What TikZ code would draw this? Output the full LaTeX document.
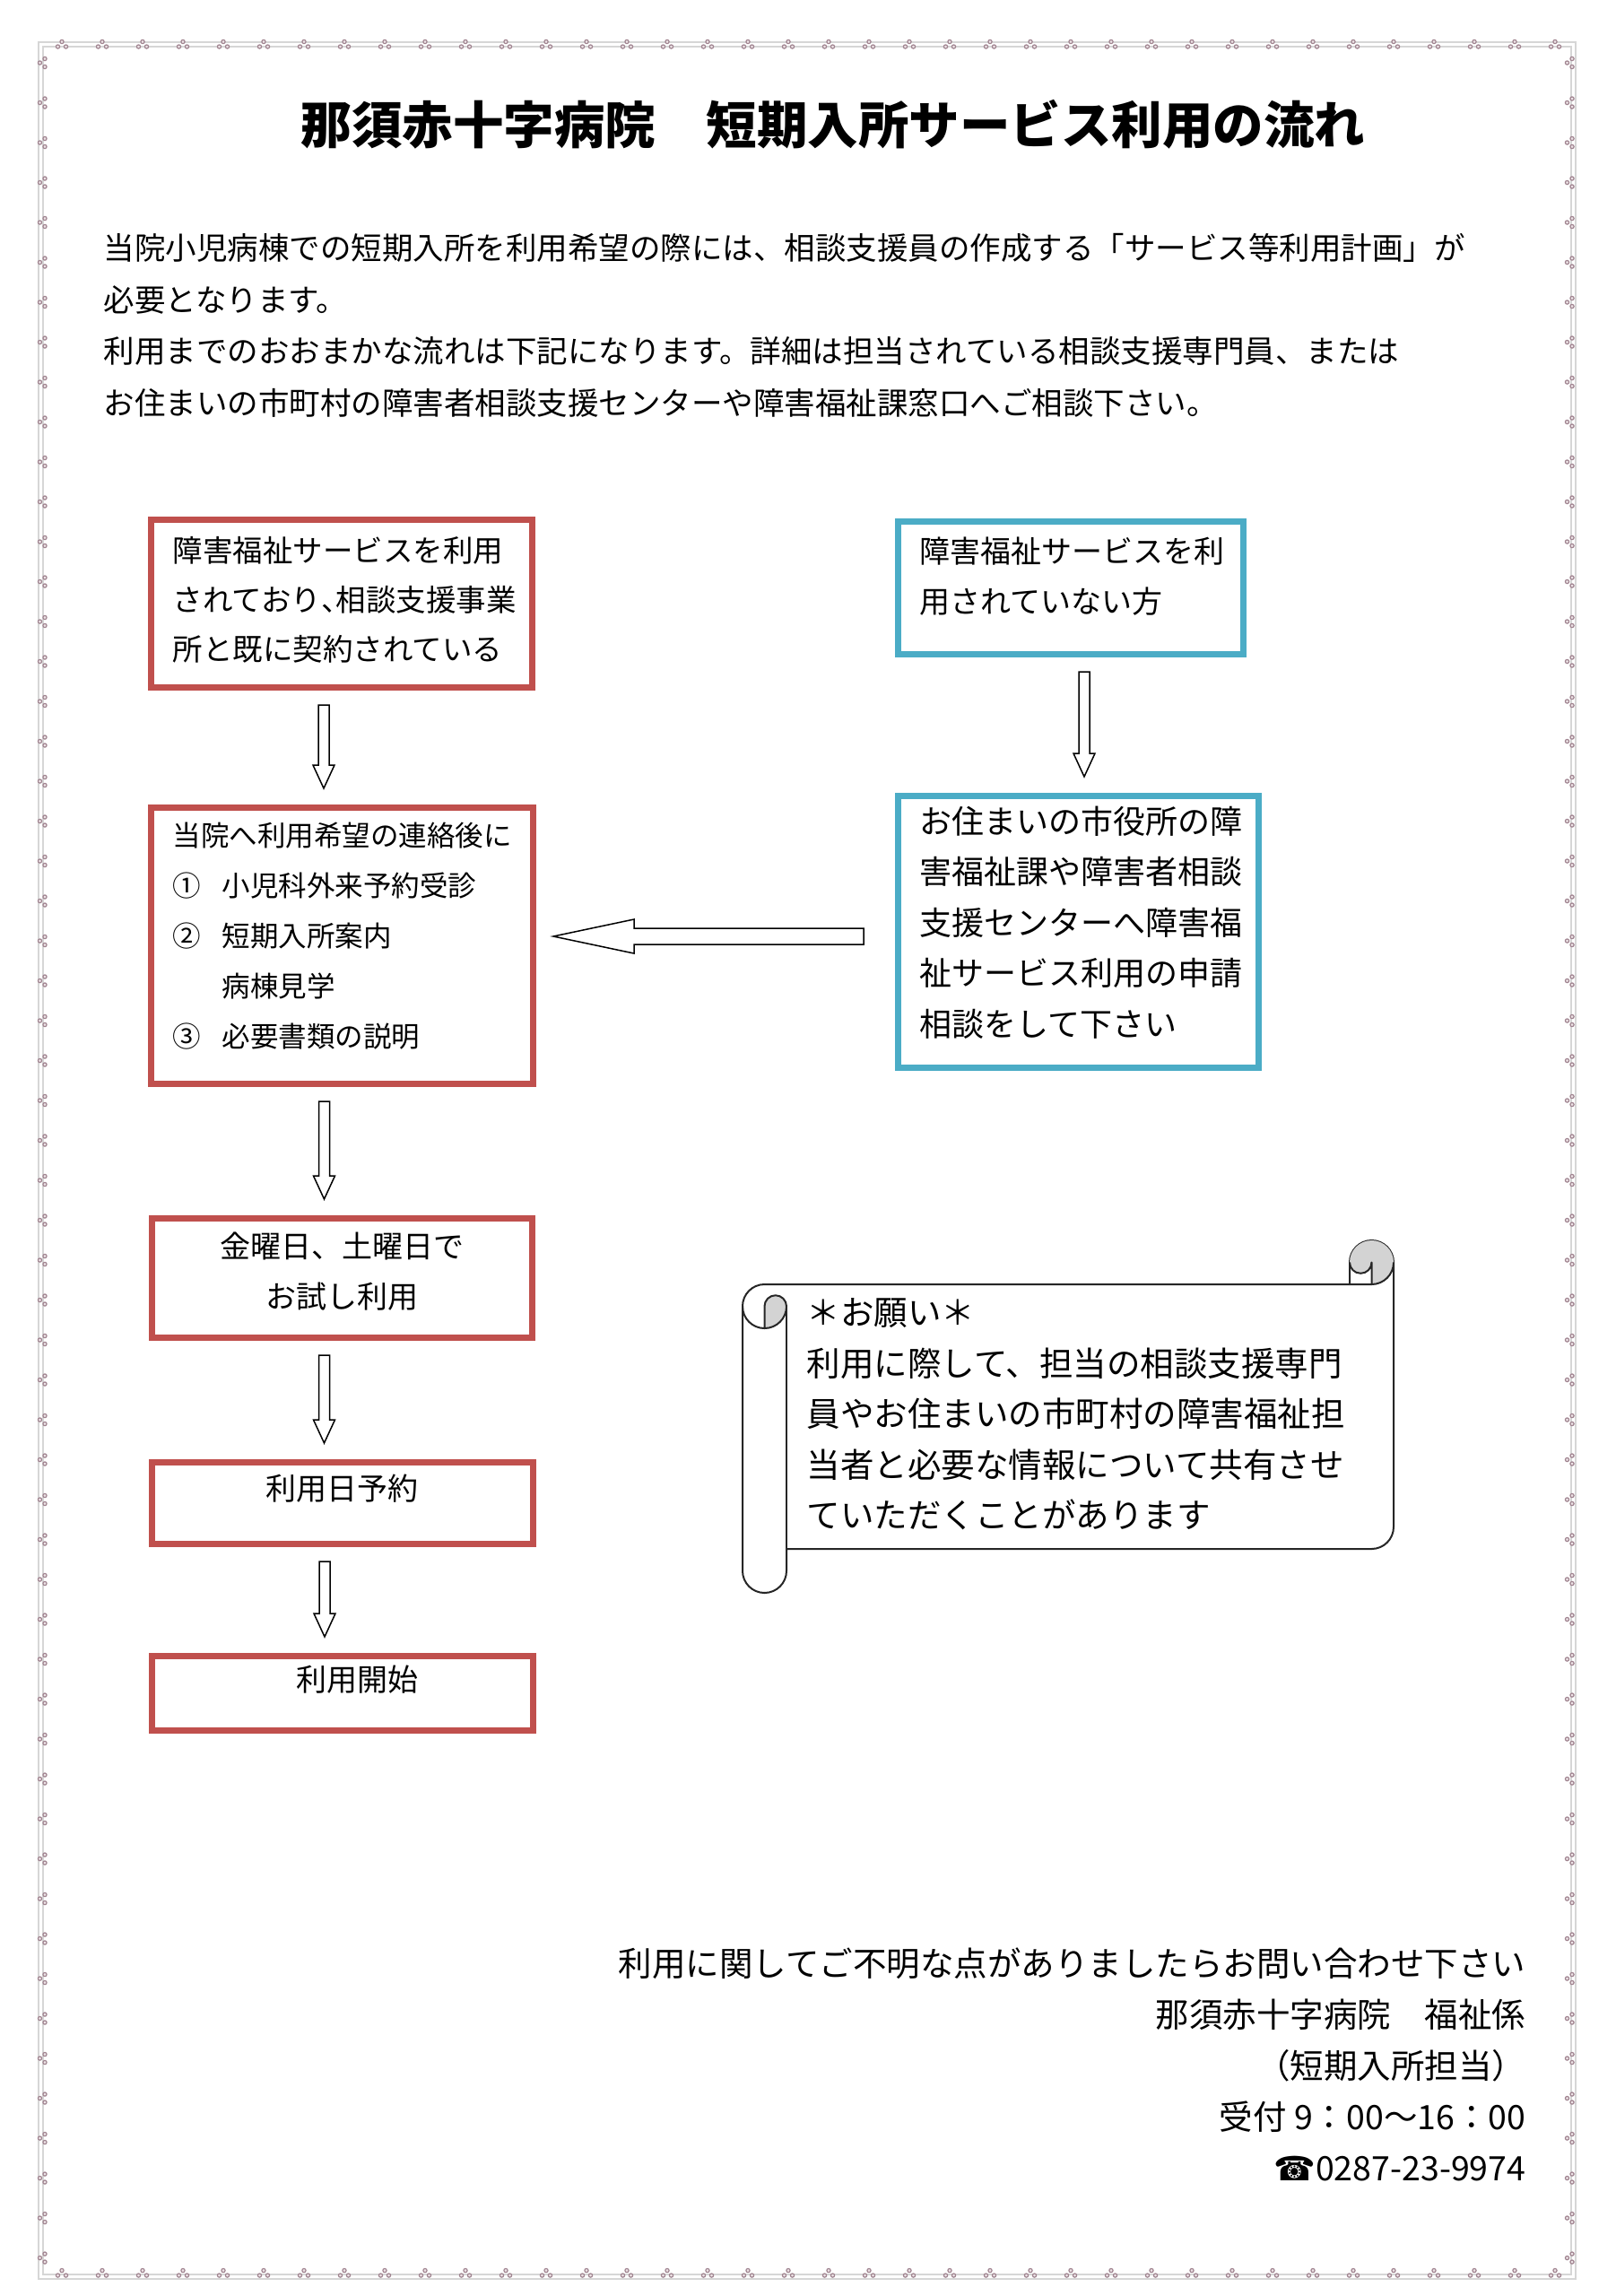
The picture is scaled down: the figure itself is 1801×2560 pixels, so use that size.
\documentclass[tikz,border=0pt]{standalone}
\usepackage{fontspec}
\setmainfont{Noto Sans CJK JP}
\newfontfamily\telfont{DejaVu Sans}
\usetikzlibrary{calc}

\definecolor{boxred}{HTML}{C0504D}
\definecolor{boxblue}{HTML}{4BACC6}
\definecolor{framegray}{HTML}{D6D6D6}
\definecolor{dotrose}{HTML}{A08490}
\definecolor{dotpink}{HTML}{EDE3E6}
\definecolor{curlgray}{HTML}{D3D3D3}

\newcommand{\fsz}[2]{\fontsize{#1mm}{#2mm}\selectfont}

\tikzset{
  redbox/.style={draw=boxred, line width=0.7mm, inner sep=0pt},
  bluebox/.style={draw=boxblue, line width=0.7mm, inner sep=0pt},
  boxtext/.style={anchor=north west, inner sep=0pt, align=left, execute at begin node=\strut},
  midtext/.style={anchor=north, inner sep=0pt, align=center, execute at begin node=\strut},
  hollow/.style={draw=black, line width=0.15mm, fill=white, line join=miter},
  scrollline/.style={draw=black!85, line width=0.2mm, line join=round},
  flower/.pic={\foreach \p in {(0,-3.5),(-4.5,2),(4.5,2)}
      \filldraw[draw=dotrose, fill=dotpink, line width=0.12mm] \p circle (0.21mm);},
}

% hollow block arrows
\newcommand{\flowdown}[3]{%
  \coordinate (s) at ($(#1.south)+(#3,16)$);
  \coordinate (t) at ($(s |- #2.north)+(0,-18)$);
  \draw[hollow] ($(s)+(-6,0)$) -- ($(t)+(-6,-26)$) -- ($(t)+(-12,-26)$) -- (t)
    -- ($(t)+(12,-26)$) -- ($(t)+(6,-26)$) -- ($(s)+(6,0)$) -- cycle;
}
\newcommand{\flowleft}[3]{%
  \coordinate (s) at ($(#1.west)+(-35,#3)$);
  \coordinate (t) at ($(s -| #2.east)+(19,0)$);
  \draw[hollow] ($(s)+(0,-9)$) -- ($(t)+(90,-9)$) -- ($(t)+(90,-19)$) -- (t)
    -- ($(t)+(90,19)$) -- ($(t)+(90,9)$) -- ($(s)+(0,9)$) -- cycle;
}

\begin{document}
\begin{tikzpicture}[x=0.1mm, y=-0.1mm]
    \fill[white] (0,0) rectangle (1801,2560);

    % Frame
    \draw[framegray, line width=0.12mm] (43,47) rectangle (1757,2541);
    \draw[framegray, line width=0.12mm] (48,52) rectangle (1752,2536);
    \foreach \i in {0,...,37} {
        \pic at (69+\i*45,50) {flower};
        \pic at (69+\i*45,2535) {flower};
    }
    \foreach \j in {0,...,55} {
        \pic[rotate=90] at (48,70+\j*44.5) {flower};
        \pic[rotate=90] at (1751,70+\j*44.5) {flower};
    }

    % Title and intro
    \node[font=\fsz{5.65}{7}\bfseries] (title) at (929,139) {那須赤十字病院　短期入所サービス利用の流れ};
    \node[boxtext, font=\fsz{3.45}{5.75}] (intro) at (115,260)
        {当院小児病棟での短期入所を利用希望の際には、相談支援員の作成する「サービス等利用計画」が\\
         必要となります。\\
         利用までのおおまかな流れは下記になります。詳細は担当されている相談支援専門員、または\\
         お住まいの市町村の障害者相談支援センターや障害福祉課窓口へご相談下さい。};

    % Boxes
    \node[redbox, minimum width=42.5mm, minimum height=18.7mm] (boxA) at (381,673) {};
    \node[redbox, minimum width=42.6mm, minimum height=30.8mm] (boxC) at (381.5,1054.5) {};
    \node[redbox, minimum width=42.4mm, minimum height=13.3mm] (boxE) at (381.5,1425) {};
    \node[redbox, minimum width=42.5mm, minimum height=9.1mm] (boxF) at (382,1676) {};
    \node[redbox, minimum width=42.5mm, minimum height=8.3mm] (boxG) at (382,1888) {};
    \node[bluebox, minimum width=38.5mm, minimum height=14.8mm] (boxB) at (1194,655.5) {};
    \node[bluebox, minimum width=40.2mm, minimum height=30.3mm] (boxD) at (1202.5,1039) {};

    % Box texts
    \node[boxtext, font=\fsz{3.35}{5.5}] (txtA) at (192,598)
        {障害福祉サービスを利用\\されており\makebox[0.5em][l]{、}相談支援事業\\所と既に契約されている};
    \node[boxtext, font=\fsz{3.15}{5.6}] (txtC) at (192,916)
        {当院へ利用希望の連絡後に\\
         \makebox[5.5mm][l]{①}小児科外来予約受診\\
         \makebox[5.5mm][l]{②}短期入所案内\\
         \hspace*{5.5mm}病棟見学\\
         \makebox[5.5mm][l]{③}必要書類の説明};
    \node[midtext, font=\fsz{3.4}{5.6}] (txtE) at (381,1373) {金曜日、土曜日で\\お試し利用};
    \node[midtext, font=\fsz{3.4}{5.6}] (txtF) at (381,1633) {利用日予約};
    \node[midtext, font=\fsz{3.4}{5.6}] (txtG) at (398,1846) {利用開始};
    \node[boxtext, font=\fsz{3.4}{5.6}] (txtB) at (1025,598) {障害福祉サービスを利\\用されていない方};
    \node[boxtext, font=\fsz{3.6}{5.65}] (txtD) at (1025,898)
        {お住まいの市役所の障\\害福祉課や障害者相談\\支援センターへ障害福\\祉サービス利用の申請\\相談をして下さい};

    % Arrows
    \flowdown{boxA}{boxC}{-20}
    \flowdown{boxC}{boxE}{-20}
    \flowdown{boxE}{boxF}{-20}
    \flowdown{boxF}{boxG}{-20}
    \flowdown{boxB}{boxD}{15}
    \flowleft{boxD}{boxC}{5}

    % Scroll
    \begin{scope}[shift={(828,1383)}]
        \filldraw[scrollline, fill=white] (0,73.5) arc[start angle=180, delta angle=90, radius=24.5]
            -- (677,49) -- (677,24.5) arc[start angle=180, delta angle=180, radius=24.5]
            -- (726,319.5) arc[start angle=0, delta angle=90, radius=24.5]
            -- (49,344) -- (49,368.5) arc[start angle=0, delta angle=180, radius=24.5] -- cycle;
        \fill[curlgray] (24.5,98) arc[start angle=90, delta angle=-90, radius=24.5]
            arc[start angle=0, delta angle=-180, radius=12.25] -- cycle;
        \fill[curlgray] (701.5,49) arc[start angle=90, delta angle=-270, radius=24.5]
            arc[start angle=180, delta angle=-180, radius=12.25] -- cycle;
        \draw[scrollline] (677,49) -- (701.5,49) arc[start angle=90, delta angle=-90, radius=24.5];
        \draw[scrollline] (701.5,49) -- (701.5,24.5) arc[start angle=0, delta angle=180, radius=12.25];
        \draw[scrollline] (24.5,98) -- (24.5,73.5) arc[start angle=180, delta angle=180, radius=12.25]
            arc[start angle=0, delta angle=180, radius=24.5];
        \draw[scrollline] (49,73.5) -- (49,344);
    \end{scope}
    \node[boxtext, font=\fsz{3.75}{5.65}] (request) at (899,1447)
        {＊お願い＊\\利用に際して、担当の相談支援専門\\員やお住まいの市町村の障害福祉担\\当者と必要な情報について共有させ\\ていただくことがあります};

    % Contact
    \node[anchor=north east, inner sep=0pt, align=right, execute at begin node=\strut,
          font=\fsz{3.75}{5.7}] (contact) at (1702,2171)
        {利用に関してご不明な点がありましたらお問い合わせ下さい\\
         那須赤十字病院　福祉係\\
         （短期入所担当）\\
         受付 9：00～16：00\\
         {\telfont ☎}0287-23-9974};
\end{tikzpicture}
\end{document}
